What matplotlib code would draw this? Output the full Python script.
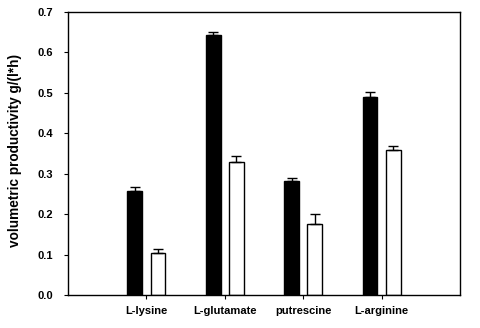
import matplotlib
matplotlib.use("Agg")
import matplotlib.pyplot as plt
import numpy as np

plt.rcParams['font.family'] = ['Liberation Sans', 'DejaVu Sans']
plt.rcParams['font.weight'] = 'bold'

categories = ["L-lysine", "L-glutamate", "putrescine", "L-arginine"]
black_vals = [0.257, 0.642, 0.281, 0.489]
black_err = [0.009, 0.009, 0.008, 0.013]
white_vals = [0.105, 0.328, 0.176, 0.359]
white_err = [0.010, 0.017, 0.024, 0.010]
yticks = [0.0, 0.1, 0.2, 0.3, 0.4, 0.5, 0.6, 0.7]

fig = plt.figure(figsize=(4.81, 3.28), dpi=100)
ax = fig.add_axes([68/481, 1-295/328, (460-68)/481, (295-12)/328])

x = np.arange(1, len(categories)+1)
w = 0.19
off = 0.148
ax.bar(x-off, black_vals, w, color='black', edgecolor='black', linewidth=1,
       yerr=[np.zeros(4), black_err], error_kw=dict(ecolor='black', elinewidth=1, capsize=3.5, capthick=1))
ax.bar(x+off, white_vals, w, color='white', edgecolor='black', linewidth=1,
       yerr=[np.zeros(4), white_err], error_kw=dict(ecolor='black', elinewidth=1, capsize=3.5, capthick=1))

ax.set_xlim(0, 5)
ax.set_ylim(0, 0.7)
ax.set_xticks(x)
ax.set_xticklabels(categories, fontsize=8, fontweight='bold')
ax.set_yticks(yticks)
ax.set_yticklabels([f"{v:.1f}" for v in yticks], fontsize=8, fontweight='bold')
ax.tick_params(axis='y', direction='out', length=3, width=0.8, pad=8)
ax.tick_params(axis='x', direction='out', length=3, width=0.8, pad=5)
for s in ax.spines.values():
    s.set_linewidth(1)
ax.set_ylabel("volumetric productivity g/(l*h)", fontsize=9.8, fontweight='bold')
ax.yaxis.set_label_coords(-46/392, 0.51)

fig.savefig("out.png", dpi=100)
